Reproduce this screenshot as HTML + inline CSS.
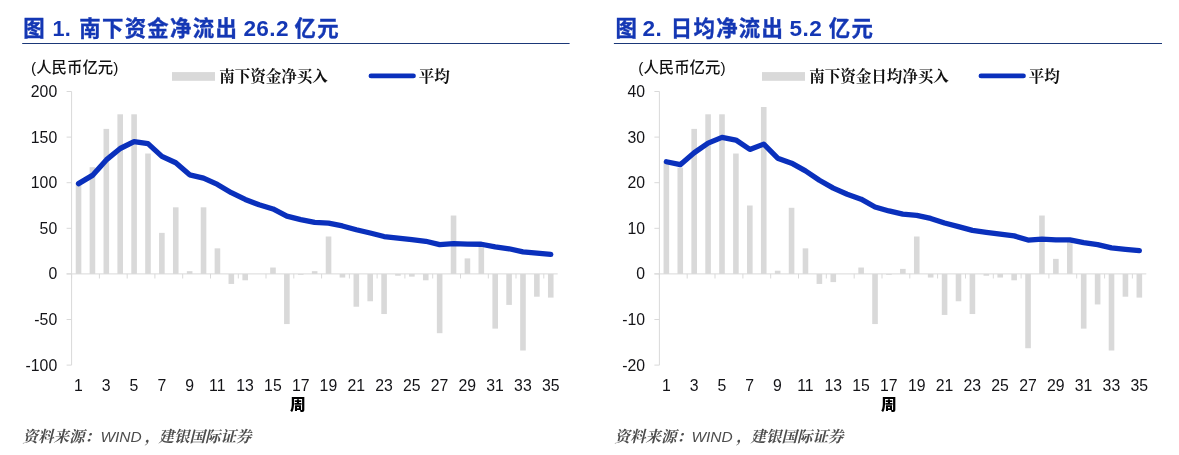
<!DOCTYPE html>
<html lang="zh-CN">
<head>
<meta charset="utf-8">
<title>图 1. 南下资金净流出 26.2 亿元</title>
<style>
html,body{margin:0;padding:0;background:#fff;}
body{width:1179px;height:455px;overflow:hidden;position:relative;}
svg{position:absolute;left:0;top:0;display:block;}
text{font-family:"Liberation Sans","Noto Sans CJK SC",sans-serif;fill:#141418;}
.num{font-size:15.8px;}
.title{font-family:"Liberation Sans","Noto Sans CJK SC",sans-serif;font-weight:bold;font-size:21.4px;letter-spacing:1.3px;fill:#1437b4;stroke:#1437b4;stroke-width:0.35px;}
.tl{font-size:22.6px;letter-spacing:0.4px;stroke-width:0;}
.t1{font-size:21.6px;}
.unit{font-family:"Liberation Sans","Noto Sans CJK SC",sans-serif;font-size:15.4px;font-weight:500;fill:#111;}
.leg{font-family:"Liberation Serif","Noto Serif CJK SC",serif;font-size:15.5px;font-weight:bold;fill:#111;}
.xt{font-family:"Liberation Sans","Noto Sans CJK SC",sans-serif;font-size:15.7px;font-weight:900;fill:#000;}
.src{font-family:"Liberation Serif","Noto Serif CJK SC",serif;font-size:15.5px;font-style:italic;font-weight:700;fill:#4d4d4d;}
.lat{font-family:"Liberation Sans","Noto Sans CJK SC",sans-serif;font-weight:400;}
</style>
</head>
<body>
<svg width="1179" height="455" viewBox="0 0 1179 455">
<rect x="0" y="0" width="1179" height="455" fill="#ffffff"/>
<text class="title"><tspan x="23.2" y="36.4">图</tspan> <tspan class="tl t1" x="52.4" y="35.7">1.</tspan> <tspan x="79.3" y="36.4">南下资金净流出</tspan> <tspan class="tl" x="243.4" y="36.1">26.2</tspan> <tspan x="294.6" y="36.4">亿元</tspan></text>
<path d="M22.2 43.4H569.6" stroke="#1b3878" stroke-width="1.05" fill="none"/>
<text class="title"><tspan x="615.4" y="36.4">图</tspan> <tspan class="tl" x="642.6" y="36.1">2.</tspan> <tspan x="670.8" y="36.4">日均净流出</tspan> <tspan class="tl" x="789.6" y="36.1">5.2</tspan> <tspan x="828.8" y="36.4">亿元</tspan></text>
<path d="M613.9 43.4H1162" stroke="#1b3878" stroke-width="1.05" fill="none"/>
<text class="unit" x="31.1" y="73">(人民币亿元)</text>
<text class="unit" x="638.3" y="73">(人民币亿元)</text>
<rect x="172" y="72.1" width="43" height="8.7" fill="#d9d9d9"/>
<text class="leg" x="219.3" y="82">南下资金净买入</text>
<path d="M371 75.9H413.4" stroke="#0a30bc" stroke-width="4.9" stroke-linecap="round" fill="none"/>
<text class="leg" x="418.7" y="82">平均</text>
<rect x="762" y="72.1" width="43" height="8.7" fill="#d9d9d9"/>
<text class="leg" x="809.3" y="82">南下资金日均净买入</text>
<path d="M981 75.9H1023.4" stroke="#0a30bc" stroke-width="4.9" stroke-linecap="round" fill="none"/>
<text class="leg" x="1028.8" y="82">平均</text>
<rect x="75.74" y="183.61" width="5.6" height="90.29" fill="#d9d9d9"/>
<rect x="89.63" y="167.20" width="5.6" height="106.70" fill="#d9d9d9"/>
<rect x="103.52" y="128.89" width="5.6" height="145.01" fill="#d9d9d9"/>
<rect x="117.41" y="114.30" width="5.6" height="159.60" fill="#d9d9d9"/>
<rect x="131.30" y="114.30" width="5.6" height="159.60" fill="#d9d9d9"/>
<rect x="145.19" y="153.52" width="5.6" height="120.38" fill="#d9d9d9"/>
<rect x="159.08" y="232.86" width="5.6" height="41.04" fill="#d9d9d9"/>
<rect x="172.96" y="207.32" width="5.6" height="66.58" fill="#d9d9d9"/>
<rect x="186.85" y="271.16" width="5.6" height="2.74" fill="#d9d9d9"/>
<rect x="200.74" y="207.32" width="5.6" height="66.58" fill="#d9d9d9"/>
<rect x="214.63" y="248.36" width="5.6" height="25.54" fill="#d9d9d9"/>
<rect x="228.52" y="273.90" width="5.6" height="10.03" fill="#d9d9d9"/>
<rect x="242.41" y="273.90" width="5.6" height="6.38" fill="#d9d9d9"/>
<rect x="270.18" y="267.52" width="5.6" height="6.38" fill="#d9d9d9"/>
<rect x="284.07" y="273.90" width="5.6" height="50.16" fill="#d9d9d9"/>
<rect x="297.96" y="273.90" width="5.6" height="0.91" fill="#d9d9d9"/>
<rect x="311.85" y="271.16" width="5.6" height="2.74" fill="#d9d9d9"/>
<rect x="325.74" y="236.51" width="5.6" height="37.39" fill="#d9d9d9"/>
<rect x="339.63" y="273.90" width="5.6" height="3.65" fill="#d9d9d9"/>
<rect x="353.52" y="273.90" width="5.6" height="32.83" fill="#d9d9d9"/>
<rect x="367.40" y="273.90" width="5.6" height="27.36" fill="#d9d9d9"/>
<rect x="381.29" y="273.90" width="5.6" height="40.13" fill="#d9d9d9"/>
<rect x="395.18" y="273.90" width="5.6" height="1.82" fill="#d9d9d9"/>
<rect x="409.07" y="273.90" width="5.6" height="2.74" fill="#d9d9d9"/>
<rect x="422.96" y="273.90" width="5.6" height="6.38" fill="#d9d9d9"/>
<rect x="436.85" y="273.90" width="5.6" height="59.28" fill="#d9d9d9"/>
<rect x="450.74" y="215.53" width="5.6" height="58.37" fill="#d9d9d9"/>
<rect x="464.62" y="258.40" width="5.6" height="15.50" fill="#d9d9d9"/>
<rect x="478.51" y="246.54" width="5.6" height="27.36" fill="#d9d9d9"/>
<rect x="492.40" y="273.90" width="5.6" height="54.72" fill="#d9d9d9"/>
<rect x="506.29" y="273.90" width="5.6" height="31.01" fill="#d9d9d9"/>
<rect x="520.18" y="273.90" width="5.6" height="76.61" fill="#d9d9d9"/>
<rect x="534.07" y="273.90" width="5.6" height="22.80" fill="#d9d9d9"/>
<rect x="547.96" y="273.90" width="5.6" height="23.71" fill="#d9d9d9"/>
<path d="M71.6 91.5V365.1" stroke="#d9d9d9" stroke-width="1" fill="none"/>
<path d="M66.6 91.5H71.6" stroke="#d9d9d9" stroke-width="1" fill="none"/>
<text class="num" x="57.2" y="97" text-anchor="end">200</text>
<path d="M66.6 137.1H71.6" stroke="#d9d9d9" stroke-width="1" fill="none"/>
<text class="num" x="57.2" y="143" text-anchor="end">150</text>
<path d="M66.6 182.7H71.6" stroke="#d9d9d9" stroke-width="1" fill="none"/>
<text class="num" x="57.2" y="188" text-anchor="end">100</text>
<path d="M66.6 228.3H71.6" stroke="#d9d9d9" stroke-width="1" fill="none"/>
<text class="num" x="57.2" y="234" text-anchor="end">50</text>
<path d="M66.6 273.9H71.6" stroke="#d9d9d9" stroke-width="1" fill="none"/>
<text class="num" x="57.2" y="279" text-anchor="end">0</text>
<path d="M66.6 319.5H71.6" stroke="#d9d9d9" stroke-width="1" fill="none"/>
<text class="num" x="57.2" y="325" text-anchor="end">-50</text>
<path d="M66.6 365.1H71.6" stroke="#d9d9d9" stroke-width="1" fill="none"/>
<text class="num" x="57.2" y="371" text-anchor="end">-100</text>
<path d="M66.6 273.9H557.7" stroke="#d9d9d9" stroke-width="1" fill="none"/>
<path d="M71.6 273.9v4.6" stroke="#d9d9d9" stroke-width="1" fill="none"/>
<path d="M99.4 273.9v4.6" stroke="#d9d9d9" stroke-width="1" fill="none"/>
<path d="M127.2 273.9v4.6" stroke="#d9d9d9" stroke-width="1" fill="none"/>
<path d="M154.9 273.9v4.6" stroke="#d9d9d9" stroke-width="1" fill="none"/>
<path d="M182.7 273.9v4.6" stroke="#d9d9d9" stroke-width="1" fill="none"/>
<path d="M210.5 273.9v4.6" stroke="#d9d9d9" stroke-width="1" fill="none"/>
<path d="M238.3 273.9v4.6" stroke="#d9d9d9" stroke-width="1" fill="none"/>
<path d="M266.0 273.9v4.6" stroke="#d9d9d9" stroke-width="1" fill="none"/>
<path d="M293.8 273.9v4.6" stroke="#d9d9d9" stroke-width="1" fill="none"/>
<path d="M321.6 273.9v4.6" stroke="#d9d9d9" stroke-width="1" fill="none"/>
<path d="M349.4 273.9v4.6" stroke="#d9d9d9" stroke-width="1" fill="none"/>
<path d="M377.1 273.9v4.6" stroke="#d9d9d9" stroke-width="1" fill="none"/>
<path d="M404.9 273.9v4.6" stroke="#d9d9d9" stroke-width="1" fill="none"/>
<path d="M432.7 273.9v4.6" stroke="#d9d9d9" stroke-width="1" fill="none"/>
<path d="M460.5 273.9v4.6" stroke="#d9d9d9" stroke-width="1" fill="none"/>
<path d="M488.3 273.9v4.6" stroke="#d9d9d9" stroke-width="1" fill="none"/>
<path d="M516.0 273.9v4.6" stroke="#d9d9d9" stroke-width="1" fill="none"/>
<path d="M543.8 273.9v4.6" stroke="#d9d9d9" stroke-width="1" fill="none"/>
<text class="num" x="78.4" y="391" text-anchor="middle">1</text>
<text class="num" x="106.2" y="391" text-anchor="middle">3</text>
<text class="num" x="134.0" y="391" text-anchor="middle">5</text>
<text class="num" x="161.8" y="391" text-anchor="middle">7</text>
<text class="num" x="189.6" y="391" text-anchor="middle">9</text>
<text class="num" x="217.3" y="391" text-anchor="middle">11</text>
<text class="num" x="245.1" y="391" text-anchor="middle">13</text>
<text class="num" x="272.9" y="391" text-anchor="middle">15</text>
<text class="num" x="300.7" y="391" text-anchor="middle">17</text>
<text class="num" x="328.4" y="391" text-anchor="middle">19</text>
<text class="num" x="356.2" y="391" text-anchor="middle">21</text>
<text class="num" x="384.0" y="391" text-anchor="middle">23</text>
<text class="num" x="411.8" y="391" text-anchor="middle">25</text>
<text class="num" x="439.5" y="391" text-anchor="middle">27</text>
<text class="num" x="467.3" y="391" text-anchor="middle">29</text>
<text class="num" x="495.1" y="391" text-anchor="middle">31</text>
<text class="num" x="522.9" y="391" text-anchor="middle">33</text>
<text class="num" x="550.7" y="391" text-anchor="middle">35</text>
<polyline points="78.54,183.61 92.43,175.40 106.32,159.90 120.21,148.50 134.10,141.66 147.99,143.64 161.88,156.38 175.76,162.75 189.65,174.80 203.54,178.05 217.43,184.44 231.32,192.73 245.21,199.47 259.10,204.78 272.98,208.97 286.87,216.16 300.76,219.61 314.65,222.47 328.54,223.21 342.43,225.93 356.32,229.78 370.20,233.03 384.09,236.55 397.98,238.18 411.87,239.72 425.76,241.28 439.65,244.68 453.54,243.64 467.42,244.15 481.31,244.23 495.20,246.95 509.09,248.76 522.98,251.85 536.87,253.17 550.76,254.44" fill="none" stroke="#0a30bc" stroke-width="5.3" stroke-linecap="round" stroke-linejoin="round"/>
<rect x="663.56" y="161.72" width="5.6" height="112.18" fill="#d9d9d9"/>
<rect x="677.47" y="167.65" width="5.6" height="106.25" fill="#d9d9d9"/>
<rect x="691.38" y="128.89" width="5.6" height="145.01" fill="#d9d9d9"/>
<rect x="705.29" y="114.30" width="5.6" height="159.60" fill="#d9d9d9"/>
<rect x="719.20" y="114.30" width="5.6" height="159.60" fill="#d9d9d9"/>
<rect x="733.11" y="153.52" width="5.6" height="120.38" fill="#d9d9d9"/>
<rect x="747.02" y="205.50" width="5.6" height="68.40" fill="#d9d9d9"/>
<rect x="760.94" y="107.00" width="5.6" height="166.90" fill="#d9d9d9"/>
<rect x="774.85" y="270.71" width="5.6" height="3.19" fill="#d9d9d9"/>
<rect x="788.76" y="207.78" width="5.6" height="66.12" fill="#d9d9d9"/>
<rect x="802.67" y="248.36" width="5.6" height="25.54" fill="#d9d9d9"/>
<rect x="816.58" y="273.90" width="5.6" height="10.03" fill="#d9d9d9"/>
<rect x="830.49" y="273.90" width="5.6" height="8.21" fill="#d9d9d9"/>
<rect x="858.32" y="267.52" width="5.6" height="6.38" fill="#d9d9d9"/>
<rect x="872.23" y="273.90" width="5.6" height="50.16" fill="#d9d9d9"/>
<rect x="886.14" y="273.90" width="5.6" height="0.91" fill="#d9d9d9"/>
<rect x="900.05" y="268.88" width="5.6" height="5.02" fill="#d9d9d9"/>
<rect x="913.96" y="236.51" width="5.6" height="37.39" fill="#d9d9d9"/>
<rect x="927.87" y="273.90" width="5.6" height="3.65" fill="#d9d9d9"/>
<rect x="941.78" y="273.90" width="5.6" height="41.04" fill="#d9d9d9"/>
<rect x="955.70" y="273.90" width="5.6" height="27.36" fill="#d9d9d9"/>
<rect x="969.61" y="273.90" width="5.6" height="40.13" fill="#d9d9d9"/>
<rect x="983.52" y="273.90" width="5.6" height="1.82" fill="#d9d9d9"/>
<rect x="997.43" y="273.90" width="5.6" height="3.65" fill="#d9d9d9"/>
<rect x="1011.34" y="273.90" width="5.6" height="6.38" fill="#d9d9d9"/>
<rect x="1025.25" y="273.90" width="5.6" height="74.33" fill="#d9d9d9"/>
<rect x="1039.16" y="215.53" width="5.6" height="58.37" fill="#d9d9d9"/>
<rect x="1053.08" y="258.85" width="5.6" height="15.05" fill="#d9d9d9"/>
<rect x="1066.99" y="239.70" width="5.6" height="34.20" fill="#d9d9d9"/>
<rect x="1080.90" y="273.90" width="5.6" height="54.72" fill="#d9d9d9"/>
<rect x="1094.81" y="273.90" width="5.6" height="30.55" fill="#d9d9d9"/>
<rect x="1108.72" y="273.90" width="5.6" height="76.61" fill="#d9d9d9"/>
<rect x="1122.63" y="273.90" width="5.6" height="22.80" fill="#d9d9d9"/>
<rect x="1136.54" y="273.90" width="5.6" height="23.71" fill="#d9d9d9"/>
<path d="M659.4 91.5V365.1" stroke="#d9d9d9" stroke-width="1" fill="none"/>
<path d="M654.4 91.5H659.4" stroke="#d9d9d9" stroke-width="1" fill="none"/>
<text class="num" x="645.0" y="97" text-anchor="end">40</text>
<path d="M654.4 137.1H659.4" stroke="#d9d9d9" stroke-width="1" fill="none"/>
<text class="num" x="645.0" y="143" text-anchor="end">30</text>
<path d="M654.4 182.7H659.4" stroke="#d9d9d9" stroke-width="1" fill="none"/>
<text class="num" x="645.0" y="188" text-anchor="end">20</text>
<path d="M654.4 228.3H659.4" stroke="#d9d9d9" stroke-width="1" fill="none"/>
<text class="num" x="645.0" y="234" text-anchor="end">10</text>
<path d="M654.4 273.9H659.4" stroke="#d9d9d9" stroke-width="1" fill="none"/>
<text class="num" x="645.0" y="279" text-anchor="end">0</text>
<path d="M654.4 319.5H659.4" stroke="#d9d9d9" stroke-width="1" fill="none"/>
<text class="num" x="645.0" y="325" text-anchor="end">-10</text>
<path d="M654.4 365.1H659.4" stroke="#d9d9d9" stroke-width="1" fill="none"/>
<text class="num" x="645.0" y="371" text-anchor="end">-20</text>
<path d="M654.4 273.9H1146.3" stroke="#d9d9d9" stroke-width="1" fill="none"/>
<path d="M659.4 273.9v4.6" stroke="#d9d9d9" stroke-width="1" fill="none"/>
<path d="M687.2 273.9v4.6" stroke="#d9d9d9" stroke-width="1" fill="none"/>
<path d="M715.0 273.9v4.6" stroke="#d9d9d9" stroke-width="1" fill="none"/>
<path d="M742.9 273.9v4.6" stroke="#d9d9d9" stroke-width="1" fill="none"/>
<path d="M770.7 273.9v4.6" stroke="#d9d9d9" stroke-width="1" fill="none"/>
<path d="M798.5 273.9v4.6" stroke="#d9d9d9" stroke-width="1" fill="none"/>
<path d="M826.3 273.9v4.6" stroke="#d9d9d9" stroke-width="1" fill="none"/>
<path d="M854.2 273.9v4.6" stroke="#d9d9d9" stroke-width="1" fill="none"/>
<path d="M882.0 273.9v4.6" stroke="#d9d9d9" stroke-width="1" fill="none"/>
<path d="M909.8 273.9v4.6" stroke="#d9d9d9" stroke-width="1" fill="none"/>
<path d="M937.6 273.9v4.6" stroke="#d9d9d9" stroke-width="1" fill="none"/>
<path d="M965.5 273.9v4.6" stroke="#d9d9d9" stroke-width="1" fill="none"/>
<path d="M993.3 273.9v4.6" stroke="#d9d9d9" stroke-width="1" fill="none"/>
<path d="M1021.1 273.9v4.6" stroke="#d9d9d9" stroke-width="1" fill="none"/>
<path d="M1048.9 273.9v4.6" stroke="#d9d9d9" stroke-width="1" fill="none"/>
<path d="M1076.7 273.9v4.6" stroke="#d9d9d9" stroke-width="1" fill="none"/>
<path d="M1104.6 273.9v4.6" stroke="#d9d9d9" stroke-width="1" fill="none"/>
<path d="M1132.4 273.9v4.6" stroke="#d9d9d9" stroke-width="1" fill="none"/>
<text class="num" x="666.3" y="391" text-anchor="middle">1</text>
<text class="num" x="694.1" y="391" text-anchor="middle">3</text>
<text class="num" x="721.9" y="391" text-anchor="middle">5</text>
<text class="num" x="749.7" y="391" text-anchor="middle">7</text>
<text class="num" x="777.5" y="391" text-anchor="middle">9</text>
<text class="num" x="805.4" y="391" text-anchor="middle">11</text>
<text class="num" x="833.2" y="391" text-anchor="middle">13</text>
<text class="num" x="861.0" y="391" text-anchor="middle">15</text>
<text class="num" x="888.8" y="391" text-anchor="middle">17</text>
<text class="num" x="916.7" y="391" text-anchor="middle">19</text>
<text class="num" x="944.5" y="391" text-anchor="middle">21</text>
<text class="num" x="972.3" y="391" text-anchor="middle">23</text>
<text class="num" x="1000.1" y="391" text-anchor="middle">25</text>
<text class="num" x="1028.0" y="391" text-anchor="middle">27</text>
<text class="num" x="1055.8" y="391" text-anchor="middle">29</text>
<text class="num" x="1083.6" y="391" text-anchor="middle">31</text>
<text class="num" x="1111.4" y="391" text-anchor="middle">33</text>
<text class="num" x="1139.2" y="391" text-anchor="middle">35</text>
<polyline points="666.36,161.72 680.27,164.69 694.18,152.76 708.09,143.14 722.00,137.37 735.91,140.06 749.82,149.41 763.74,144.11 777.65,158.18 791.56,163.14 805.47,170.89 819.38,180.31 833.29,188.14 847.20,194.26 861.12,199.15 875.03,206.95 888.94,210.95 902.85,214.16 916.76,215.34 930.67,218.45 944.58,223.05 958.50,226.60 972.41,230.40 986.32,232.29 1000.23,234.10 1014.14,235.88 1028.05,240.04 1041.96,239.16 1055.88,239.84 1069.79,239.84 1083.70,242.70 1097.61,244.63 1111.52,247.84 1125.43,249.28 1139.34,250.66" fill="none" stroke="#0a30bc" stroke-width="5.3" stroke-linecap="round" stroke-linejoin="round"/>
<text class="xt" x="297.9" y="410.1" text-anchor="middle">周</text>
<text class="xt" x="888.9" y="410.1" text-anchor="middle">周</text>
<text class="src" y="442"><tspan x="22.6">资料来源：</tspan><tspan class="lat" x="100.4">WIND</tspan><tspan x="144.8">，</tspan><tspan x="158.6">建银国际证券</tspan></text>
<text class="src" y="442"><tspan x="614.5">资料来源：</tspan><tspan class="lat" x="691.4">WIND</tspan><tspan x="736.2">，</tspan><tspan x="750.6">建银国际证券</tspan></text>
</svg>
</body>
</html>
